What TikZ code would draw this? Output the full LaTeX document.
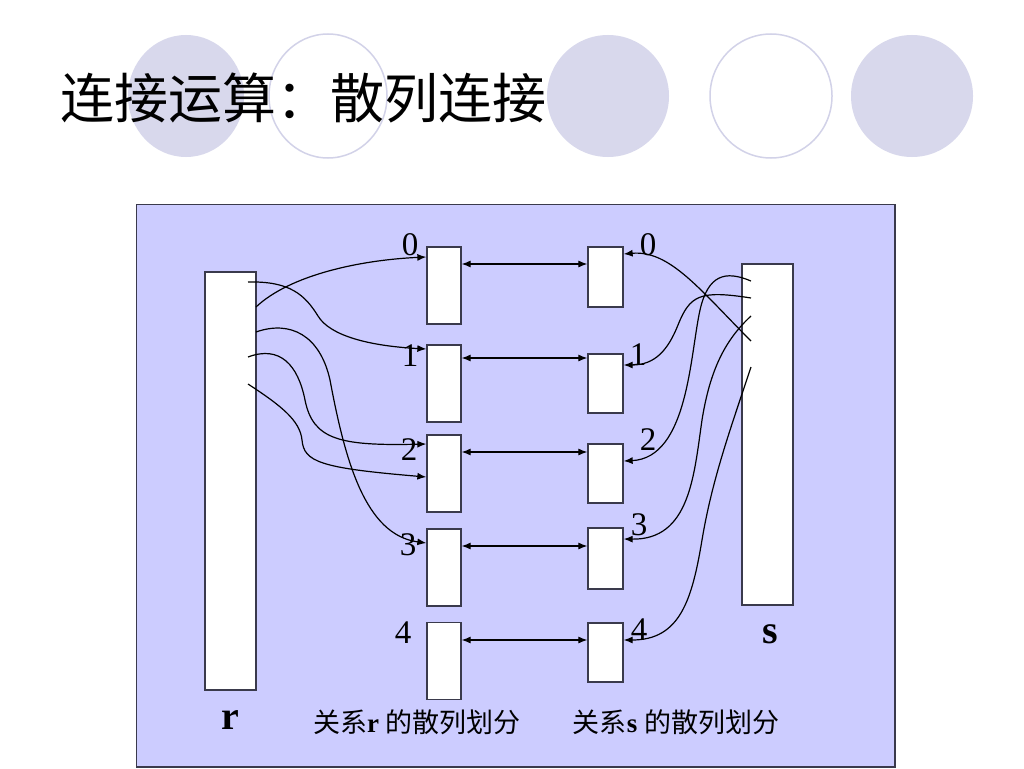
\documentclass[tikz,border=0pt]{standalone}
\usepackage{fontspec}
\setmainfont{Liberation Serif}
\newfontfamily\cjk{Noto Sans CJK SC}
\usetikzlibrary{arrows.meta}
\definecolor{deco}{HTML}{D8D8EC}
\definecolor{decoline}{HTML}{D2D2E8}
\definecolor{panel}{HTML}{CCCCFF}
\definecolor{edge}{HTML}{3A3A4C}
\tikzset{
  bucket/.style={draw=edge,line width=1.3pt,fill=white,inner sep=0pt,minimum width=34pt},
  relbox/.style={draw=edge,line width=1.3pt,fill=white,inner sep=0pt,minimum width=51pt},
  link/.style={line width=1.2pt,-{Latex[length=9pt,width=7pt]}},
  both/.style={line width=1.1pt,{Latex[length=9pt,width=7pt]}-{Latex[length=9pt,width=7pt]}},
  digit/.style={font=\fontsize{33}{33}\selectfont,inner sep=0pt},
  caption/.style={font=\fontsize{27}{27}\selectfont,inner sep=0pt},
  rel/.style={font=\fontsize{40}{40}\selectfont\bfseries,inner sep=0pt}
}
\begin{document}
\begin{tikzpicture}[x=1pt,y=-1pt]
\useasboundingbox (0,0) rectangle (1024,768);
\fill[white] (0,0) rectangle (1024,768);
% decorative ellipses
\fill[deco] (186,96) ellipse [x radius=58,y radius=61];
\draw[decoline,line width=1.5pt,fill=white] (328,96) ellipse [x radius=59,y radius=62];
\fill[deco] (608,96) ellipse [x radius=61,y radius=61];
\draw[decoline,line width=1.5pt,fill=white] (771,96) ellipse [x radius=61,y radius=62];
\fill[deco] (912,96) ellipse [x radius=61,y radius=61];
% title
\node[anchor=west,inner sep=0pt,font=\cjk\fontsize{54}{54}\selectfont] (title) at (60,98) {连接运算：散列连接};
% panel
\draw[edge,line width=1.2pt,fill=panel] (136.5,204.5) rectangle (895,767);
% relation boxes
\node[relbox,minimum height=418pt] (r) at (230.5,481) {};
\node[relbox,minimum height=341pt] (s) at (767.5,434.5) {};
% left buckets
\node[bucket,minimum height=77pt] (L0) at (444,285.5) {};
\node[bucket,minimum height=77pt] (L1) at (444,383.5) {};
\node[bucket,minimum height=77pt] (L2) at (444,473.5) {};
\node[bucket,minimum height=77pt] (L3) at (444,567.5) {};
\node[bucket,minimum height=77pt] (L4) at (444,661) {};
% right buckets
\node[bucket,minimum width=35pt,minimum height=60pt] (R0) at (605.5,277) {};
\node[bucket,minimum width=35pt,minimum height=59pt] (R1) at (605.5,383.5) {};
\node[bucket,minimum width=35pt,minimum height=59pt] (R2) at (605.5,473.5) {};
\node[bucket,minimum width=35pt,minimum height=61pt] (R3) at (605.5,558.5) {};
\node[bucket,minimum width=35pt,minimum height=59pt] (R4) at (605.5,652.5) {};
% double arrows between partitions
\draw[both] (L0.east |- 0,264) -- (R0.west |- 0,264);
\draw[both] (L1.east |- 0,358) -- (R1.west |- 0,358);
\draw[both] (L2.east |- 0,452) -- (R2.west |- 0,452);
\draw[both] (L3.east |- 0,546) -- (R3.west |- 0,546);
\draw[both] (L4.east |- 0,640) -- (R4.west |- 0,640);
% start points in r
\coordinate (ra) at (248,282);
\coordinate (rb) at (256,307);
\coordinate (rc) at (256,332);
\coordinate (rd) at (248,357);
\coordinate (re) at (248,384);
% start points in s
\coordinate (sa) at (751,341);
\coordinate (sb) at (751,298);
\coordinate (sc) at (751,281);
\coordinate (sd) at (751,316);
\coordinate (se) at (751,367);
% r curves
\draw[link] (ra) .. controls (290,281) and (305,295) .. (318,316) .. controls (330,336) and (370,346) .. (L1.west |- 0,349);
\draw[link] (rb) .. controls (290,275) and (360,260) .. (L0.west |- 0,257);
\draw[link] (rc) .. controls (290,320) and (320,335) .. (330,380) .. controls (345,460) and (365,535) .. (L3.west |- 0,543);
\draw[link] (rd) .. controls (280,345) and (298,365) .. (305,400) .. controls (313,440) and (340,446) .. (L2.west |- 0,444);
\draw[link] (re) .. controls (280,405) and (300,420) .. (302,440) .. controls (304,462) and (320,468) .. (L2.west |- 0,477);
% s curves
\draw[link] (sa) .. controls (700,290) and (670,250) .. (R0.east |- 0,254);
\draw[link] (sb) .. controls (700,290) and (690,295) .. (678,325) .. controls (668,350) and (655,365) .. (R1.east |- 0,365);
\draw[link] (sc) .. controls (725,270) and (708,275) .. (700,310) .. controls (690,355) and (688,458) .. (R2.east |- 0,461);
\draw[link] (sd) .. controls (725,340) and (710,370) .. (702,420) .. controls (694,475) and (690,540) .. (R3.east |- 0,539);
\draw[link] (se) .. controls (730,430) and (712,480) .. (702,540) .. controls (692,600) and (680,640) .. (R4.east |- 0,640);
% digits
\node[digit] (l0) at (410,245) {0};
\node[digit] (l1) at (410,356) {1};
\node[digit] (l2) at (409,450) {2};
\node[digit] (l3) at (408,545) {3};
\node[digit] (l4) at (403,633) {4};
\node[digit] (r0) at (648,245) {0};
\node[digit] (r1) at (638,355) {1};
\node[digit] (r2) at (648,440) {2};
\node[digit] (r3) at (639,525) {3};
\node[digit] (r4) at (639,630) {4};
% labels
\node[rel] (rlab) at (230,720) {r};
\node[rel] (slab) at (770,634) {s};
\node[caption] (capr) at (417,722) {{\cjk 关系}{\bfseries r} {\cjk 的散列划分}};
\node[caption] (caps) at (676,722) {{\cjk 关系}{\bfseries s} {\cjk 的散列划分}};
\end{tikzpicture}
\end{document}
